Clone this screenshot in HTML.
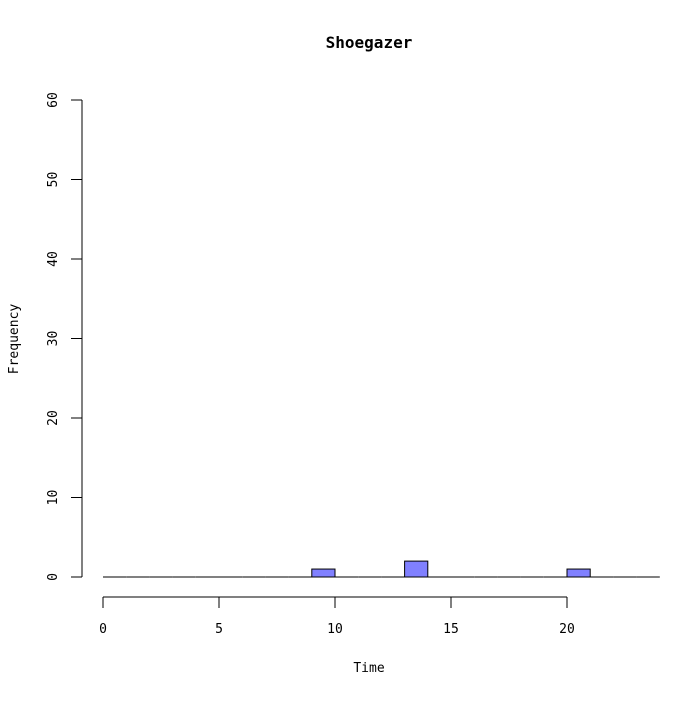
<!DOCTYPE html>
<html><head><meta charset="utf-8"><style>
body{margin:0;background:#fff}
svg text{font-family:"DejaVu Sans Mono","Liberation Mono",monospace;fill:#000}
</style></head><body>
<svg id="chart" width="699" height="699" viewBox="0 0 699 699" xmlns="http://www.w3.org/2000/svg">
<rect width="699" height="699" fill="#fff"/>
<text x="369" y="48" font-size="16" font-weight="bold" text-anchor="middle">Shoegazer</text>
<text x="369" y="672" font-size="13" text-anchor="middle">Time</text>
<text x="18" y="339" font-size="13" text-anchor="middle" transform="rotate(-90 18 339)">Frequency</text>
<g id="bars"></g>
<g id="xaxis"></g>
<g id="yaxis"></g>
</svg>
<script>
const binStarts=[0,1,2,3,4,5,6,7,8,9,10,11,12,13,14,15,16,17,18,19,20,21,22,23];
const counts=[0,0,0,0,0,0,0,0,0,1,0,0,0,2,0,0,0,0,0,0,1,0,0,0];
const xTicks=[0,5,10,15,20];
const yTicks=[0,10,20,30,40,50,60];
const binWidth=1;
const NS='http://www.w3.org/2000/svg';
const sx=v=>103+v*23.2;
const sy=v=>577-v*7.95;
function mk(t,a,p){const e=document.createElementNS(NS,t);for(const k in a)e.setAttribute(k,a[k]);p.appendChild(e);return e;}
const bars=document.getElementById('bars');
binStarts.forEach((b,i)=>{
 let r;
 if(counts[i]>0){
  r=mk('rect',{x:sx(b),y:sy(counts[i]),width:sx(b+binWidth)-sx(b),height:sy(0)-sy(counts[i]),fill:'#8080ff',stroke:'#000','stroke-width':1},bars);
 } else {
  r=mk('line',{x1:sx(b),x2:sx(b+binWidth),y1:sy(0),y2:sy(0),stroke:'#000','stroke-width':1},bars);
 }
 
 
});
const xa=document.getElementById('xaxis');
mk('line',{x1:sx(xTicks[0]),x2:sx(xTicks[xTicks.length-1]),y1:597,y2:597,stroke:'#000'},xa);
xTicks.forEach(t=>{
 mk('line',{x1:sx(t),x2:sx(t),y1:597,y2:608,stroke:'#000'},xa);
 const tx=mk('text',{x:sx(t),y:633,'font-size':13,'text-anchor':'middle'},xa);
 tx.textContent=t;
 
 
});
const ya=document.getElementById('yaxis');
mk('line',{x1:82,x2:82,y1:sy(0),y2:sy(yTicks[yTicks.length-1]),stroke:'#000'},ya);
yTicks.forEach(t=>{
 mk('line',{x1:71,x2:82,y1:sy(t),y2:sy(t),stroke:'#000'},ya);
 const tx=mk('text',{x:57,y:sy(t),'font-size':13,'text-anchor':'middle',transform:`rotate(-90 57 ${sy(t)})`},ya);
 tx.textContent=t;
 
 
});
</script>
</body></html>
